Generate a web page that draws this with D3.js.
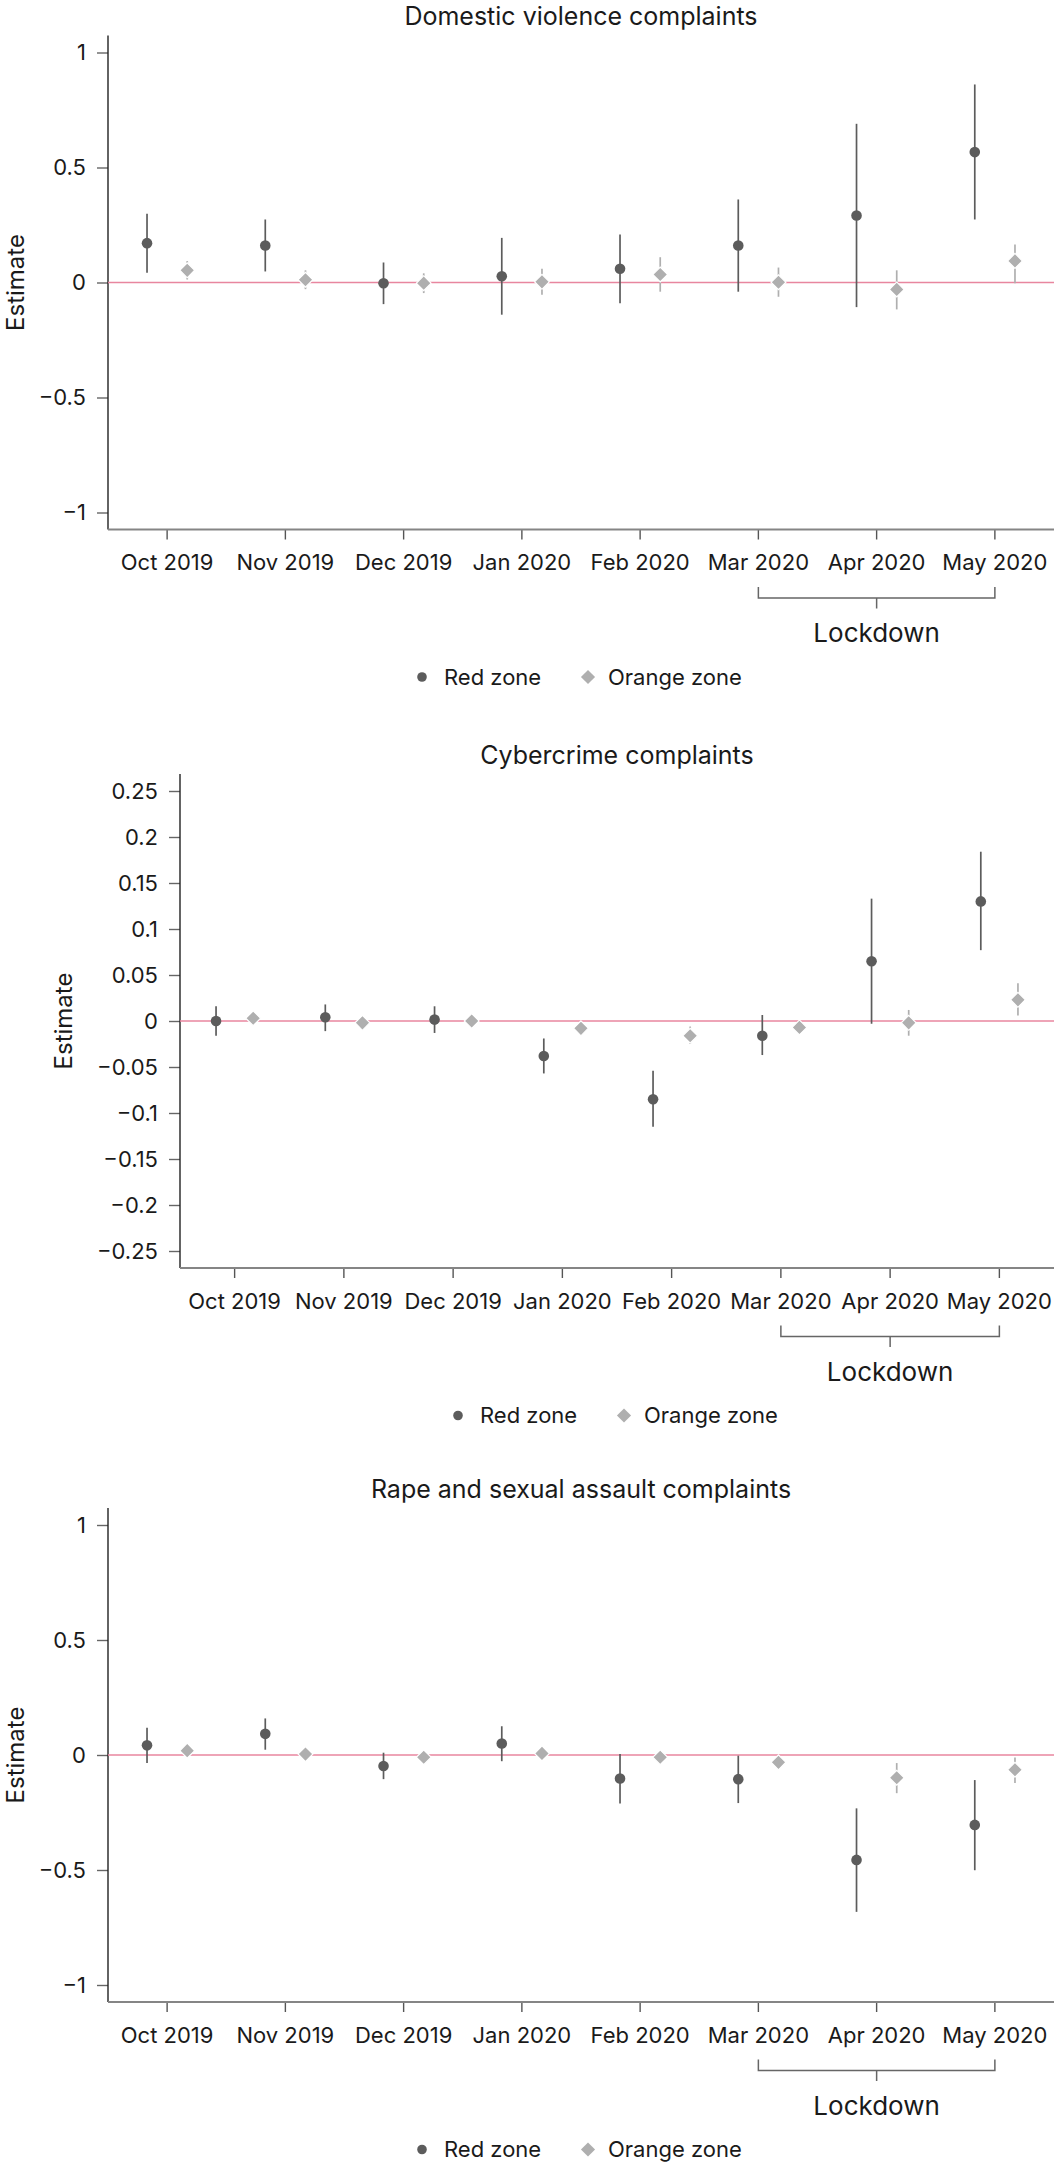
<!DOCTYPE html>
<html>
<head>
<meta charset="utf-8">
<script src="https://cdn.jsdelivr.net/npm/d3@7"></script>
<style>
    body { margin: 0; background: #fff; }
    text { font-family: Inter, "Noto Sans", sans-serif; fill: #1a1a1a; }
</style>
</head>
<body>
<div id="chart-area"></div>
<script>
// months on the x axis
var months = ["Oct 2019", "Nov 2019", "Dec 2019", "Jan 2020", "Feb 2020", "Mar 2020", "Apr 2020", "May 2020"];
var lockdownMonths = ["Mar 2020", "May 2020"];

// Domestic violence complaints
var dvRed      = [0.171, 0.161, -0.003, 0.027, 0.060, 0.161, 0.291, 0.567];
var dvRedLo    = [0.042, 0.048, -0.094, -0.140, -0.090, -0.040, -0.107, 0.274];
var dvRedHi    = [0.299, 0.274, 0.087, 0.194, 0.209, 0.361, 0.690, 0.861];
var dvOrange   = [0.053, 0.012, -0.003, 0.003, 0.035, 0.001, -0.030, 0.094];
var dvOrangeLo = [0.013, -0.029, -0.046, -0.053, -0.040, -0.062, -0.117, -0.003];
var dvOrangeHi = [0.093, 0.053, 0.040, 0.060, 0.110, 0.065, 0.053, 0.165];

// Cybercrime complaints
var ccRed      = [0.000, 0.004, 0.0015, -0.038, -0.085, -0.016, 0.065, 0.130];
var ccRedLo    = [-0.016, -0.011, -0.013, -0.057, -0.115, -0.037, -0.003, 0.077];
var ccRedHi    = [0.016, 0.018, 0.016, -0.019, -0.054, 0.0065, 0.133, 0.184];
var ccOrange   = [0.003, -0.002, 0.000, -0.008, -0.016, -0.007, -0.002, 0.023];
var ccOrangeLo = [-0.002, -0.006, -0.004, -0.012, -0.025, -0.011, -0.016, 0.006];
var ccOrangeHi = [0.008, 0.002, 0.004, -0.004, -0.006, -0.003, 0.012, 0.041];

// Rape and sexual assault complaints
var rsRed      = [0.042, 0.092, -0.048, 0.050, -0.102, -0.105, -0.456, -0.304];
var rsRedLo    = [-0.035, 0.023, -0.105, -0.027, -0.211, -0.209, -0.682, -0.501];
var rsRedHi    = [0.118, 0.159, 0.010, 0.125, 0.004, -0.003, -0.232, -0.109];
var rsOrange   = [0.019, 0.004, -0.010, 0.007, -0.010, -0.032, -0.099, -0.064];
var rsOrangeLo = [-0.010, -0.020, -0.035, -0.020, -0.035, -0.055, -0.166, -0.122];
var rsOrangeHi = [0.045, 0.030, 0.015, 0.030, 0.015, -0.010, -0.035, -0.011];

// y tick labels
var wideTicks = [-1, -0.5, 0, 0.5, 1];
var cyberTicks = [-0.25, -0.2, -0.15, -0.1, -0.05, 0, 0.05, 0.1, 0.15, 0.2, 0.25];

var seriesNames = ["Red zone", "Orange zone"];
var redColor = "#5c5c5c";
var orangeColor = "#afafaf";
var zeroColor = "#e8869f";

var width = 1054, height = 2164;

var svg = d3.select("#chart-area").append("svg")
    .attr("width", width)
    .attr("height", height);

function rows(est, lo, hi) {
    return months.map((m, i) => ({month: m, est: est[i], lo: lo[i], hi: hi[i]}));
}

function drawPanel(opt) {
    var g = svg.append("g").attr("transform", "translate(0," + opt.top + ")");

    var topTick = 52.5, bottomTick = 512.5, pad = 17;
    var axisY = bottomTick + pad;

    var x = d3.scaleBand().domain(months).range([opt.left, width]);
    var bw = x.bandwidth();
    var cx = (m) => x(m) + bw / 2;

    var y = d3.scaleLinear()
        .domain([opt.ticks[0], opt.ticks[opt.ticks.length - 1]])
        .range([bottomTick, topTick]);

    var mid = (opt.left + width) / 2;

    // title
    g.append("text")
        .attr("x", mid).attr("y", 25)
        .attr("text-anchor", "middle")
        .style("font-size", "25px")
        .text(opt.title);

    // y axis label
    g.append("text")
        .attr("transform", "translate(" + opt.labelX + "," + y(0) + ") rotate(-90)")
        .attr("text-anchor", "middle")
        .style("font-size", "24px")
        .text("Estimate");

    // y axis
    var yAxis = g.append("g")
        .attr("transform", "translate(" + opt.left + ",0)")
        .call(d3.axisLeft(y).tickValues(opt.ticks).tickFormat(d3.format("~g"))
            .tickSize(11).tickPadding(11).tickSizeOuter(0));
    yAxis.select(".domain").remove();
    yAxis.selectAll(".tick line").attr("stroke", "#666").attr("stroke-width", 1.4);
    yAxis.selectAll(".tick text").style("font-size", "22px").attr("fill", "#1a1a1a");

    g.append("line")
        .attr("x1", opt.left).attr("x2", opt.left)
        .attr("y1", topTick - pad).attr("y2", axisY)
        .attr("stroke", "#222").attr("stroke-width", 1.4);

    // x axis
    var xAxis = g.append("g")
        .attr("transform", "translate(0," + axisY + ")")
        .call(d3.axisBottom(x).tickSize(10).tickPadding(15).tickSizeOuter(0));
    xAxis.select(".domain").remove();
    xAxis.selectAll(".tick line").attr("stroke", "#555").attr("stroke-width", 1.4);
    xAxis.selectAll(".tick text").style("font-size", "22px").attr("fill", "#1a1a1a");

    g.append("line")
        .attr("x1", opt.left).attr("x2", width)
        .attr("y1", axisY).attr("y2", axisY)
        .attr("stroke", "#858585").attr("stroke-width", 1.8);

    // zero reference line
    g.append("line")
        .attr("x1", opt.left).attr("x2", width)
        .attr("y1", y(0)).attr("y2", y(0))
        .attr("stroke", zeroColor).attr("stroke-width", 1.6);

    var off = bw * 0.17;

    // orange zone: intervals and diamonds
    var orange = g.append("g");
    orange.selectAll("line").data(opt.orange).enter().append("line")
        .attr("x1", (d) => cx(d.month) + off)
        .attr("x2", (d) => cx(d.month) + off)
        .attr("y1", (d) => y(d.lo))
        .attr("y2", (d) => y(d.hi))
        .attr("stroke", orangeColor).attr("stroke-width", 1.7);
    orange.selectAll("path").data(opt.orange).enter().append("path")
        .attr("d", d3.symbol(d3.symbolSquare, 110))
        .attr("transform", (d) => "translate(" + (cx(d.month) + off) + "," + y(d.est) + ") rotate(45)")
        .attr("fill", orangeColor)
        .attr("stroke", "#fff").attr("stroke-width", 1.2);

    // red zone: intervals and dots
    var red = g.append("g");
    red.selectAll("line").data(opt.red).enter().append("line")
        .attr("x1", (d) => cx(d.month) - off)
        .attr("x2", (d) => cx(d.month) - off)
        .attr("y1", (d) => y(d.lo))
        .attr("y2", (d) => y(d.hi))
        .attr("stroke", redColor).attr("stroke-width", 1.7);
    red.selectAll("circle").data(opt.red).enter().append("circle")
        .attr("cx", (d) => cx(d.month) - off)
        .attr("cy", (d) => y(d.est))
        .attr("r", 5.3)
        .attr("fill", redColor);

    // lockdown bracket
    var bx1 = cx(lockdownMonths[0]), bx2 = cx(lockdownMonths[1]);
    var bTop = axisY + 57.5, bMid = axisY + 68.5;
    g.append("path")
        .attr("d", "M" + bx1 + "," + bTop + "V" + bMid + "H" + bx2 + "V" + bTop +
              "M" + ((bx1 + bx2) / 2) + "," + bMid + "V" + (bMid + 10.5))
        .attr("fill", "none").attr("stroke", "#666").attr("stroke-width", 1.5);
    g.append("text")
        .attr("x", (bx1 + bx2) / 2).attr("y", axisY + 112.5)
        .attr("text-anchor", "middle")
        .style("font-size", "26px")
        .text("Lockdown");

    // legend
    var ly = axisY + 147.5;
    var legend = g.append("g").attr("transform", "translate(" + mid + "," + ly + ")");
    legend.append("circle").attr("cx", -159).attr("cy", 0).attr("r", 4.8).attr("fill", redColor);
    legend.append("text").attr("x", -137).attr("y", 0).attr("dy", "0.35em")
        .style("font-size", "22px").text(seriesNames[0]);
    legend.append("path")
        .attr("d", d3.symbol(d3.symbolSquare, 100))
        .attr("transform", "translate(7,0) rotate(45)")
        .attr("fill", orangeColor);
    legend.append("text").attr("x", 27).attr("y", 0).attr("dy", "0.35em")
        .style("font-size", "22px").text(seriesNames[1]);
}

drawPanel({
    top: 0, left: 108, labelX: 24,
    title: "Domestic violence complaints",
    ticks: wideTicks,
    red: rows(dvRed, dvRedLo, dvRedHi),
    orange: rows(dvOrange, dvOrangeLo, dvOrangeHi)
});

drawPanel({
    top: 738.5, left: 180, labelX: 72,
    title: "Cybercrime complaints",
    ticks: cyberTicks,
    red: rows(ccRed, ccRedLo, ccRedHi),
    orange: rows(ccOrange, ccOrangeLo, ccOrangeHi)
});

drawPanel({
    top: 1472.5, left: 108, labelX: 24,
    title: "Rape and sexual assault complaints",
    ticks: wideTicks,
    red: rows(rsRed, rsRedLo, rsRedHi),
    orange: rows(rsOrange, rsOrangeLo, rsOrangeHi)
});
</script>
</body>
</html>
